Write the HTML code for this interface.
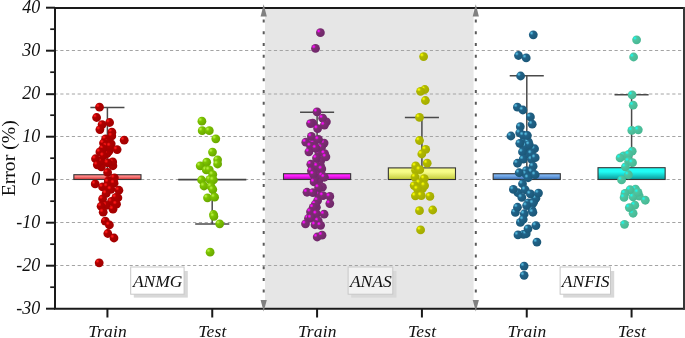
<!DOCTYPE html>
<html lang="en"><head><meta charset="utf-8"><title>Error box plot</title>
<style>
html,body{margin:0;padding:0;background:#fff}
svg{display:block}
text{font-family:"Liberation Serif","Times New Roman",serif;fill:#111}
.it{font-style:italic;font-size:18px}
</style></head><body>
<svg width="685" height="338" viewBox="0 0 685 338">
<defs>
<radialGradient id="g0" cx="0.32" cy="0.32" r="0.68" fx="0.3" fy="0.3"><stop offset="0" stop-color="#ff1818"/><stop offset="0.07" stop-color="#ff1818"/><stop offset="0.34" stop-color="#ae0000"/><stop offset="1" stop-color="#a20000"/></radialGradient>
<radialGradient id="g1" cx="0.32" cy="0.32" r="0.68" fx="0.3" fy="0.3"><stop offset="0" stop-color="#b4ec3c"/><stop offset="0.07" stop-color="#b4ec3c"/><stop offset="0.34" stop-color="#7cc400"/><stop offset="1" stop-color="#6aa800"/></radialGradient>
<radialGradient id="g2" cx="0.32" cy="0.32" r="0.68" fx="0.3" fy="0.3"><stop offset="0" stop-color="#ff08ff"/><stop offset="0.07" stop-color="#ff08ff"/><stop offset="0.34" stop-color="#7c2e72"/><stop offset="1" stop-color="#70286a"/></radialGradient>
<radialGradient id="g3" cx="0.32" cy="0.32" r="0.68" fx="0.3" fy="0.3"><stop offset="0" stop-color="#f6fa00"/><stop offset="0.07" stop-color="#f6fa00"/><stop offset="0.34" stop-color="#b0b800"/><stop offset="1" stop-color="#a4ac00"/></radialGradient>
<radialGradient id="g4" cx="0.32" cy="0.32" r="0.68" fx="0.3" fy="0.3"><stop offset="0" stop-color="#52b8dc"/><stop offset="0.07" stop-color="#52b8dc"/><stop offset="0.34" stop-color="#206288"/><stop offset="1" stop-color="#1c5878"/></radialGradient>
<radialGradient id="g5" cx="0.32" cy="0.32" r="0.68" fx="0.3" fy="0.3"><stop offset="0" stop-color="#18f8ea"/><stop offset="0.07" stop-color="#18f8ea"/><stop offset="0.34" stop-color="#50c4a0"/><stop offset="1" stop-color="#48b894"/></radialGradient>
<linearGradient id="b0" x1="0" y1="0" x2="0" y2="1"><stop offset="0" stop-color="#ff8484"/><stop offset="0.35" stop-color="#ff8484"/><stop offset="1" stop-color="#d43434"/></linearGradient>
<linearGradient id="b2" x1="0" y1="0" x2="0" y2="1"><stop offset="0" stop-color="#ff20ff"/><stop offset="0.35" stop-color="#ff20ff"/><stop offset="1" stop-color="#b000b0"/></linearGradient>
<linearGradient id="b3" x1="0" y1="0" x2="0" y2="1"><stop offset="0" stop-color="#f6fc88"/><stop offset="0.35" stop-color="#f6fc88"/><stop offset="1" stop-color="#c4cc3c"/></linearGradient>
<linearGradient id="b4" x1="0" y1="0" x2="0" y2="1"><stop offset="0" stop-color="#78aeec"/><stop offset="0.35" stop-color="#78aeec"/><stop offset="1" stop-color="#366cb4"/></linearGradient>
<linearGradient id="b5" x1="0" y1="0" x2="0" y2="1"><stop offset="0" stop-color="#20fcf4"/><stop offset="0.35" stop-color="#20fcf4"/><stop offset="1" stop-color="#0c9898"/></linearGradient>
</defs>
<rect width="685" height="338" fill="#fff"/>
<rect x="265" y="8.8" width="208.6" height="298.9" fill="#e6e6e6"/>
<line x1="54.53" x2="683" y1="50.50" y2="50.50" stroke="#a4a4a4" stroke-width="1" stroke-dasharray="3.2 2.573"/>
<line x1="54.53" x2="683" y1="94.00" y2="94.00" stroke="#a4a4a4" stroke-width="1" stroke-dasharray="3.2 2.573"/>
<line x1="54.53" x2="683" y1="136.50" y2="136.50" stroke="#a4a4a4" stroke-width="1" stroke-dasharray="3.2 2.573"/>
<line x1="54.53" x2="683" y1="179.50" y2="179.50" stroke="#a4a4a4" stroke-width="1" stroke-dasharray="3.2 2.573"/>
<line x1="54.53" x2="683" y1="222.50" y2="222.50" stroke="#a4a4a4" stroke-width="1" stroke-dasharray="3.2 2.573"/>
<line x1="54.53" x2="683" y1="265.50" y2="265.50" stroke="#a4a4a4" stroke-width="1" stroke-dasharray="3.2 2.573"/>
<line x1="263.7" x2="263.7" y1="19.6" y2="294" stroke="#5a5a5a" stroke-width="2" stroke-dasharray="3 8.74"/>
<line x1="475.8" x2="475.8" y1="19.6" y2="294" stroke="#5a5a5a" stroke-width="2" stroke-dasharray="3 8.74"/>
<line x1="107.4" x2="107.4" y1="107.5" y2="174.2" stroke="#4a4a4a" stroke-width="1.5"/>
<rect x="73.85" y="174.70" width="67.14" height="4.80" fill="url(#b0)" stroke="#353535" stroke-width="1.1"/>
<line x1="90.38" x2="124.45" y1="107.5" y2="107.5" stroke="#4a4a4a" stroke-width="1.5"/>
<line x1="212.2" x2="212.2" y1="223.9" y2="179.8" stroke="#4a4a4a" stroke-width="1.5"/>
<line x1="178.18" x2="246.32" y1="179.6" y2="179.6" stroke="#444" stroke-width="1.6"/>
<line x1="195.21" x2="229.29" y1="223.9" y2="223.9" stroke="#4a4a4a" stroke-width="1.5"/>
<line x1="317.1" x2="317.1" y1="112.2" y2="173.2" stroke="#4a4a4a" stroke-width="1.5"/>
<rect x="283.51" y="173.70" width="67.14" height="5.80" fill="url(#b2)" stroke="#353535" stroke-width="1.1"/>
<line x1="300.05" x2="334.12" y1="112.2" y2="112.2" stroke="#4a4a4a" stroke-width="1.5"/>
<line x1="421.9" x2="421.9" y1="117.5" y2="167.4" stroke="#4a4a4a" stroke-width="1.5"/>
<rect x="388.35" y="167.90" width="67.14" height="11.60" fill="url(#b3)" stroke="#353535" stroke-width="1.1"/>
<line x1="404.88" x2="438.95" y1="117.5" y2="117.5" stroke="#4a4a4a" stroke-width="1.5"/>
<line x1="526.8" x2="526.8" y1="75.8" y2="173.2" stroke="#4a4a4a" stroke-width="1.5"/>
<rect x="493.18" y="173.70" width="67.14" height="5.80" fill="url(#b4)" stroke="#353535" stroke-width="1.1"/>
<line x1="509.71" x2="543.79" y1="75.8" y2="75.8" stroke="#4a4a4a" stroke-width="1.5"/>
<line x1="631.6" x2="631.6" y1="94.8" y2="167.2" stroke="#4a4a4a" stroke-width="1.5"/>
<rect x="598.01" y="167.70" width="67.14" height="11.80" fill="url(#b5)" stroke="#353535" stroke-width="1.1"/>
<line x1="614.55" x2="648.62" y1="94.8" y2="94.8" stroke="#4a4a4a" stroke-width="1.5"/>
<path d="M317.9 120.2 L321 122.9 L318 124.6 Z" fill="#fff"/>
<g fill="url(#g0)">
<circle cx="111.2" cy="143.85" r="4.4"/>
<circle cx="108.9" cy="151.25" r="4.4"/>
<circle cx="106.9" cy="153.75" r="4.4"/>
<circle cx="101.4" cy="166.85" r="4.4"/>
<circle cx="117.9" cy="197.75" r="4.4"/>
<circle cx="108.4" cy="180.75" r="4.4"/>
<circle cx="100.9" cy="161.25" r="4.4"/>
<circle cx="112.9" cy="165.75" r="4.4"/>
<circle cx="99.5" cy="107.2" r="4.4"/>
<circle cx="96.6" cy="117.5" r="4.4"/>
<circle cx="109.6" cy="122.5" r="4.4"/>
<circle cx="102.1" cy="124.6" r="4.4"/>
<circle cx="99.9" cy="129.6" r="4.4"/>
<circle cx="111.9" cy="132.15" r="4.4"/>
<circle cx="111.8" cy="135.95" r="4.4"/>
<circle cx="105.6" cy="138.95" r="4.4"/>
<circle cx="124.2" cy="140.15" r="4.4"/>
<circle cx="107.0" cy="142.25" r="4.4"/>
<circle cx="103.5" cy="143.05" r="4.4"/>
<circle cx="106.5" cy="146.05" r="4.4"/>
<circle cx="110.3" cy="146.05" r="4.4"/>
<circle cx="102.9" cy="148.75" r="4.4"/>
<circle cx="117.1" cy="149.55" r="4.4"/>
<circle cx="99.9" cy="151.95" r="4.4"/>
<circle cx="103.5" cy="155.75" r="4.4"/>
<circle cx="95.5" cy="158.75" r="4.4"/>
<circle cx="112.7" cy="161.95" r="4.4"/>
<circle cx="107.9" cy="162.95" r="4.4"/>
<circle cx="97.3" cy="164.85" r="4.4"/>
<circle cx="107.6" cy="172.45" r="4.4"/>
<circle cx="114.4" cy="177.85" r="4.4"/>
<circle cx="95.2" cy="183.95" r="4.4"/>
<circle cx="108.2" cy="181.95" r="4.4"/>
<circle cx="114.1" cy="183.15" r="4.4"/>
<circle cx="102.6" cy="186.95" r="4.4"/>
<circle cx="107.3" cy="186.35" r="4.4"/>
<circle cx="110.9" cy="189.35" r="4.4"/>
<circle cx="118.9" cy="190.25" r="4.4"/>
<circle cx="106.2" cy="193.45" r="4.4"/>
<circle cx="115.9" cy="197.35" r="4.4"/>
<circle cx="102.6" cy="198.95" r="4.4"/>
<circle cx="111.5" cy="201.45" r="4.4"/>
<circle cx="116.5" cy="204.15" r="4.4"/>
<circle cx="106.2" cy="205.35" r="4.4"/>
<circle cx="101.1" cy="206.25" r="4.4"/>
<circle cx="113.0" cy="209.15" r="4.4"/>
<circle cx="103.2" cy="212.15" r="4.4"/>
<circle cx="105.3" cy="221.1" r="4.4"/>
<circle cx="109.4" cy="225" r="4.4"/>
<circle cx="107.8" cy="233.5" r="4.4"/>
<circle cx="114" cy="238" r="4.4"/>
<circle cx="99.2" cy="262.8" r="4.4"/>
</g>
<g fill="url(#g1)">
<circle cx="201.9" cy="121.2" r="4.4"/>
<circle cx="202.2" cy="130.7" r="4.4"/>
<circle cx="209.3" cy="130.7" r="4.4"/>
<circle cx="215.8" cy="138.8" r="4.4"/>
<circle cx="212.5" cy="152.1" r="4.4"/>
<circle cx="217.6" cy="159.8" r="4.4"/>
<circle cx="217.6" cy="164" r="4.4"/>
<circle cx="206.7" cy="162.2" r="4.4"/>
<circle cx="200.2" cy="165.8" r="4.4"/>
<circle cx="206.3" cy="169.9" r="4.4"/>
<circle cx="209.3" cy="169.9" r="4.4"/>
<circle cx="212.8" cy="174.6" r="4.4"/>
<circle cx="201.6" cy="180" r="4.4"/>
<circle cx="209.9" cy="179.4" r="4.4"/>
<circle cx="213.4" cy="180" r="4.4"/>
<circle cx="204" cy="186" r="4.4"/>
<circle cx="211" cy="186.5" r="4.4"/>
<circle cx="212.8" cy="189.6" r="4.4"/>
<circle cx="207.5" cy="197.8" r="4.4"/>
<circle cx="214.6" cy="197.2" r="4.4"/>
<circle cx="213.5" cy="214.5" r="4.4"/>
<circle cx="213.9" cy="216.4" r="4.4"/>
<circle cx="219.7" cy="223.8" r="4.4"/>
<circle cx="210.1" cy="252.2" r="4.4"/>
</g>
<g fill="url(#g2)">
<circle cx="326.4" cy="121.85" r="4.4"/>
<circle cx="312.7" cy="123.05" r="4.4"/>
<circle cx="318.9" cy="152.75" r="4.4"/>
<circle cx="320.7" cy="160.75" r="4.4"/>
<circle cx="320.4" cy="165.25" r="4.4"/>
<circle cx="317.4" cy="170.25" r="4.4"/>
<circle cx="317.9" cy="175.75" r="4.4"/>
<circle cx="318.9" cy="180.75" r="4.4"/>
<circle cx="315.0" cy="177.75" r="4.4"/>
<circle cx="318.4" cy="194.25" r="4.4"/>
<circle cx="316.4" cy="207.25" r="4.4"/>
<circle cx="313.5" cy="143.05" r="4.4"/>
<circle cx="324.1" cy="143.05" r="4.4"/>
<circle cx="321.5" cy="147.45" r="4.4"/>
<circle cx="320.4" cy="32.7" r="4.4"/>
<circle cx="315.5" cy="48.4" r="4.4"/>
<circle cx="317" cy="111.8" r="4.4"/>
<circle cx="322.7" cy="118.15" r="4.4"/>
<circle cx="310.5" cy="123.55" r="4.4"/>
<circle cx="324.4" cy="125.05" r="4.4"/>
<circle cx="317.6" cy="128.55" r="4.4"/>
<circle cx="311.4" cy="136.45" r="4.4"/>
<circle cx="318.5" cy="139.45" r="4.4"/>
<circle cx="305.8" cy="142.15" r="4.4"/>
<circle cx="310.5" cy="145.95" r="4.4"/>
<circle cx="315.9" cy="148.05" r="4.4"/>
<circle cx="308.9" cy="151.85" r="4.4"/>
<circle cx="324.6" cy="153.55" r="4.4"/>
<circle cx="325.9" cy="156.85" r="4.4"/>
<circle cx="316.5" cy="158.05" r="4.4"/>
<circle cx="310.8" cy="164.25" r="4.4"/>
<circle cx="317.3" cy="166.05" r="4.4"/>
<circle cx="321.8" cy="168.95" r="4.4"/>
<circle cx="311.4" cy="170.75" r="4.4"/>
<circle cx="313.5" cy="174.25" r="4.4"/>
<circle cx="322.4" cy="175.75" r="4.4"/>
<circle cx="324.4" cy="177.25" r="4.4"/>
<circle cx="314.1" cy="181.95" r="4.4"/>
<circle cx="322.4" cy="187.15" r="4.4"/>
<circle cx="318.6" cy="187.45" r="4.4"/>
<circle cx="307.0" cy="192.25" r="4.4"/>
<circle cx="312.9" cy="192.55" r="4.4"/>
<circle cx="323.0" cy="195.55" r="4.4"/>
<circle cx="329.8" cy="196.45" r="4.4"/>
<circle cx="317.6" cy="200.55" r="4.4"/>
<circle cx="329.8" cy="203.55" r="4.4"/>
<circle cx="315.3" cy="204.15" r="4.4"/>
<circle cx="313.2" cy="207.45" r="4.4"/>
<circle cx="310.5" cy="211.75" r="4.4"/>
<circle cx="316.5" cy="213.85" r="4.4"/>
<circle cx="324.1" cy="214.15" r="4.4"/>
<circle cx="308.5" cy="218.25" r="4.4"/>
<circle cx="311.1" cy="217.95" r="4.4"/>
<circle cx="318.2" cy="220.95" r="4.4"/>
<circle cx="305.5" cy="223.85" r="4.4"/>
<circle cx="315.0" cy="224.75" r="4.4"/>
<circle cx="320.6" cy="225.35" r="4.4"/>
<circle cx="317.2" cy="237" r="4.4"/>
<circle cx="322" cy="235.2" r="4.4"/>
</g>
<g fill="url(#g3)">
<circle cx="415.6" cy="170.25" r="4.4"/>
<circle cx="422.4" cy="188.75" r="4.4"/>
<circle cx="423.6" cy="56.6" r="4.4"/>
<circle cx="424.8" cy="89.5" r="4.4"/>
<circle cx="420.6" cy="91.3" r="4.4"/>
<circle cx="425.4" cy="100.5" r="4.4"/>
<circle cx="419.5" cy="117.4" r="4.4"/>
<circle cx="419.5" cy="140.5" r="4.4"/>
<circle cx="425.7" cy="149.4" r="4.4"/>
<circle cx="421.8" cy="154" r="4.4"/>
<circle cx="427.2" cy="163.2" r="4.4"/>
<circle cx="415.7" cy="165.95" r="4.4"/>
<circle cx="419.8" cy="169.65" r="4.4"/>
<circle cx="415.0" cy="177.05" r="4.4"/>
<circle cx="424.3" cy="178.55" r="4.4"/>
<circle cx="419.6" cy="182.85" r="4.4"/>
<circle cx="414.2" cy="185.55" r="4.4"/>
<circle cx="424.6" cy="185.55" r="4.4"/>
<circle cx="417.5" cy="189.05" r="4.4"/>
<circle cx="429.9" cy="196.45" r="4.4"/>
<circle cx="415.4" cy="195.85" r="4.4"/>
<circle cx="421.3" cy="195.55" r="4.4"/>
<circle cx="419.5" cy="210.7" r="4.4"/>
<circle cx="432.7" cy="210" r="4.4"/>
<circle cx="420.6" cy="229.9" r="4.4"/>
</g>
<g fill="url(#g4)">
<circle cx="527.4" cy="149.25" r="4.4"/>
<circle cx="526.4" cy="154.25" r="4.4"/>
<circle cx="523.9" cy="147.25" r="4.4"/>
<circle cx="524.4" cy="139.75" r="4.4"/>
<circle cx="517.9" cy="192.75" r="4.4"/>
<circle cx="533.9" cy="201.25" r="4.4"/>
<circle cx="528.4" cy="141.95" r="4.4"/>
<circle cx="525.7" cy="146.05" r="4.4"/>
<circle cx="534.6" cy="148.75" r="4.4"/>
<circle cx="531.4" cy="153.45" r="4.4"/>
<circle cx="531.7" cy="159.35" r="4.4"/>
<circle cx="533.1" cy="166.25" r="4.4"/>
<circle cx="526.3" cy="170.65" r="4.4"/>
<circle cx="531.7" cy="171.85" r="4.4"/>
<circle cx="525.7" cy="173.85" r="4.4"/>
<circle cx="535.9" cy="198.25" r="4.4"/>
<circle cx="528.4" cy="202.95" r="4.4"/>
<circle cx="533.1" cy="203.25" r="4.4"/>
<circle cx="515.4" cy="212.45" r="4.4"/>
<circle cx="532.0" cy="210.05" r="4.4"/>
<circle cx="520.4" cy="222.45" r="4.4"/>
<circle cx="523.4" cy="234.35" r="4.4"/>
<circle cx="526.2" cy="233.75" r="4.4"/>
<circle cx="533.3" cy="34.8" r="4.4"/>
<circle cx="518.5" cy="55.5" r="4.4"/>
<circle cx="526.2" cy="57.9" r="4.4"/>
<circle cx="520.6" cy="76" r="4.4"/>
<circle cx="517.4" cy="107.2" r="4.4"/>
<circle cx="522.9" cy="110" r="4.4"/>
<circle cx="530.4" cy="116.9" r="4.4"/>
<circle cx="532.2" cy="124.2" r="4.4"/>
<circle cx="520.3" cy="126.7" r="4.4"/>
<circle cx="510.9" cy="136" r="4.4"/>
<circle cx="519.7" cy="132.8" r="4.4"/>
<circle cx="523.3" cy="135.2" r="4.4"/>
<circle cx="527.4" cy="135.5" r="4.4"/>
<circle cx="519.8" cy="143.35" r="4.4"/>
<circle cx="529.3" cy="144.55" r="4.4"/>
<circle cx="522.5" cy="151.95" r="4.4"/>
<circle cx="535.2" cy="157.65" r="4.4"/>
<circle cx="523.2" cy="159.15" r="4.4"/>
<circle cx="517.5" cy="163.25" r="4.4"/>
<circle cx="519.2" cy="172.75" r="4.4"/>
<circle cx="535.2" cy="174.75" r="4.4"/>
<circle cx="528.1" cy="177.75" r="4.4"/>
<circle cx="522.5" cy="183.75" r="4.4"/>
<circle cx="513.4" cy="189.45" r="4.4"/>
<circle cx="525.2" cy="189.75" r="4.4"/>
<circle cx="530.4" cy="193.95" r="4.4"/>
<circle cx="538.5" cy="193.05" r="4.4"/>
<circle cx="521.8" cy="197.45" r="4.4"/>
<circle cx="526.6" cy="205.65" r="4.4"/>
<circle cx="517.5" cy="207.25" r="4.4"/>
<circle cx="532.9" cy="212.25" r="4.4"/>
<circle cx="524.3" cy="213.75" r="4.4"/>
<circle cx="523.2" cy="219.45" r="4.4"/>
<circle cx="535.9" cy="225.55" r="4.4"/>
<circle cx="528.0" cy="228.85" r="4.4"/>
<circle cx="518.0" cy="234.95" r="4.4"/>
<circle cx="536.9" cy="242.1" r="4.4"/>
<circle cx="524.1" cy="266.1" r="4.4"/>
<circle cx="524.1" cy="275.3" r="4.4"/>
</g>
<g fill="url(#g5)">
<circle cx="623.6" cy="155.85" r="4.4"/>
<circle cx="639.3" cy="196.15" r="4.4"/>
<circle cx="635.5" cy="189.15" r="4.4"/>
<circle cx="633.1" cy="196.85" r="4.4"/>
<circle cx="633.1" cy="213.25" r="4.4"/>
<circle cx="636.6" cy="39.8" r="4.4"/>
<circle cx="633.6" cy="57" r="4.4"/>
<circle cx="632.1" cy="94.8" r="4.4"/>
<circle cx="633.2" cy="105.2" r="4.4"/>
<circle cx="631.8" cy="130.4" r="4.4"/>
<circle cx="638.3" cy="129.8" r="4.4"/>
<circle cx="632.2" cy="151.15" r="4.4"/>
<circle cx="628.7" cy="154.35" r="4.4"/>
<circle cx="620.1" cy="157.95" r="4.4"/>
<circle cx="628.7" cy="161.15" r="4.4"/>
<circle cx="632.5" cy="162.65" r="4.4"/>
<circle cx="625.4" cy="166.85" r="4.4"/>
<circle cx="628.4" cy="174.75" r="4.4"/>
<circle cx="621.6" cy="179.95" r="4.4"/>
<circle cx="630.0" cy="189.75" r="4.4"/>
<circle cx="625.0" cy="193.45" r="4.4"/>
<circle cx="638.0" cy="192.35" r="4.4"/>
<circle cx="624.1" cy="197.45" r="4.4"/>
<circle cx="645.3" cy="200.25" r="4.4"/>
<circle cx="634.8" cy="205.15" r="4.4"/>
<circle cx="629.3" cy="207.55" r="4.4"/>
<circle cx="624.5" cy="224.3" r="4.4"/>
</g>
<g stroke="#1a1a1a" stroke-width="2" fill="none">
<path d="M55.0 6.9 V309.75 M54.0 7.9 H684.8 M54.0 308.75 H684.8"/>
<path d="M684.0 7.300000000000001 V309.75" stroke="#383838"/>
<line x1="46" x2="55.0" y1="308.70" y2="308.70"/>
<line x1="46" x2="55.0" y1="265.70" y2="265.70"/>
<line x1="46" x2="55.0" y1="222.70" y2="222.70"/>
<line x1="46" x2="55.0" y1="179.70" y2="179.70"/>
<line x1="46" x2="55.0" y1="136.70" y2="136.70"/>
<line x1="46" x2="55.0" y1="94.20" y2="94.20"/>
<line x1="46" x2="55.0" y1="50.70" y2="50.70"/>
<line x1="46" x2="55.0" y1="7.70" y2="7.70"/>
<line x1="50.2" x2="55.0" y1="287.20" y2="287.20" stroke-width="1.7"/>
<line x1="50.2" x2="55.0" y1="244.20" y2="244.20" stroke-width="1.7"/>
<line x1="50.2" x2="55.0" y1="201.20" y2="201.20" stroke-width="1.7"/>
<line x1="50.2" x2="55.0" y1="158.20" y2="158.20" stroke-width="1.7"/>
<line x1="50.2" x2="55.0" y1="115.20" y2="115.20" stroke-width="1.7"/>
<line x1="50.2" x2="55.0" y1="72.20" y2="72.20" stroke-width="1.7"/>
<line x1="50.2" x2="55.0" y1="29.20" y2="29.20" stroke-width="1.7"/>
<line x1="107.42" x2="107.42" y1="308.75" y2="317.5"/>
<line x1="212.25" x2="212.25" y1="308.75" y2="317.5"/>
<line x1="317.08" x2="317.08" y1="308.75" y2="317.5"/>
<line x1="421.92" x2="421.92" y1="308.75" y2="317.5"/>
<line x1="526.75" x2="526.75" y1="308.75" y2="317.5"/>
<line x1="631.58" x2="631.58" y1="308.75" y2="317.5"/>
</g>
<path d="M263.7 4.2 L266.8 16.4 L260.59999999999997 16.4 Z" fill="#808080"/>
<path d="M263.7 311.6 L266.8 300 L260.59999999999997 300 Z" fill="#808080"/>
<path d="M475.8 4.2 L478.90000000000003 16.4 L472.7 16.4 Z" fill="#808080"/>
<path d="M475.8 311.6 L478.90000000000003 300 L472.7 300 Z" fill="#808080"/>
<g style="filter:grayscale(1)">
<text class="it" x="40.2" y="313.8" text-anchor="end">-30</text>
<text class="it" x="40.2" y="270.8" text-anchor="end">-20</text>
<text class="it" x="40.2" y="227.8" text-anchor="end">-10</text>
<text class="it" x="40.2" y="184.8" text-anchor="end">0</text>
<text class="it" x="40.2" y="141.8" text-anchor="end">10</text>
<text class="it" x="40.2" y="99.3" text-anchor="end">20</text>
<text class="it" x="40.2" y="55.8" text-anchor="end">30</text>
<text class="it" x="40.2" y="12.8" text-anchor="end">40</text>
<text class="it" x="107.6" y="337" text-anchor="middle" style="font-size:17.5px;letter-spacing:0.18px">Train</text>
<text class="it" x="212.4" y="337" text-anchor="middle" style="font-size:17.5px;letter-spacing:0.18px">Test</text>
<text class="it" x="317.3" y="337" text-anchor="middle" style="font-size:17.5px;letter-spacing:0.18px">Train</text>
<text class="it" x="422.1" y="337" text-anchor="middle" style="font-size:17.5px;letter-spacing:0.18px">Test</text>
<text class="it" x="527.0" y="337" text-anchor="middle" style="font-size:17.5px;letter-spacing:0.18px">Train</text>
<text class="it" x="631.8" y="337" text-anchor="middle" style="font-size:17.5px;letter-spacing:0.18px">Test</text>
<text x="0" y="0" font-size="19.7" text-anchor="middle" transform="translate(14.8 158.3) rotate(-90)">Error (%)</text>
<rect x="133.8" y="271" width="54.0" height="26.6" fill="#d8d8d8"/>
<rect x="130.7" y="267" width="53.400000000000006" height="27.2" fill="#fff" stroke="#c8c8c8" stroke-width="1"/>
<text class="it" x="157.7" y="287" text-anchor="middle" style="font-size:17.5px">ANMG</text>
<rect x="351.2" y="271" width="45.3" height="26.6" fill="#d8d8d8"/>
<rect x="348.1" y="267" width="44.69999999999999" height="27.2" fill="#f2f2f2" stroke="#c8c8c8" stroke-width="1"/>
<text class="it" x="370.8" y="287" text-anchor="middle" style="font-size:17.5px">ANAS</text>
<rect x="563.2" y="271" width="51.0" height="26.6" fill="#d8d8d8"/>
<rect x="560.1" y="267" width="50.39999999999998" height="27.2" fill="#fff" stroke="#c8c8c8" stroke-width="1"/>
<text class="it" x="585.6" y="287" text-anchor="middle" style="font-size:17.5px">ANFIS</text>
</g>
</svg></body></html>
